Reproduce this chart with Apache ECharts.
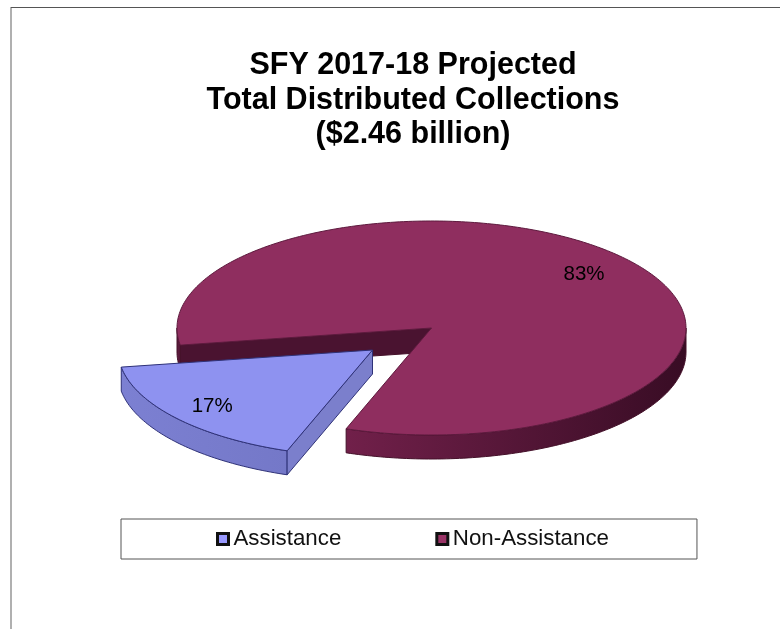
<!DOCTYPE html>
<html>
<head>
<meta charset="utf-8">
<style>html,body{margin:0;padding:0;background:#fff}#chart{width:780px;height:629px}</style>
<script src="https://cdn.jsdelivr.net/npm/echarts@6/dist/echarts.min.js"></script>
</head>
<body>
<div id="chart"></div>
<script>
// Share of projected collections by category, in percent
const categories = ['Non-Assistance', 'Assistance'];
const shares = [83, 17];
const titleLines = ['SFY 2017-18 Projected', 'Total Distributed Collections', '($2.46 billion)'];

// Projected disc: centre, radii, thickness and the angle where the shares meet
const disc = { cx: 431.5, cy: 328, rx: 254.5, ry: 107, depth: 24, seam: 170.8 };
const explode = { dx: -59, dy: 22 };
const total = shares.reduce((a, b) => a + b, 0);
const rad = d => d * Math.PI / 180;

function rimPoint(t, ox, oy) {
  return [disc.cx + ox + disc.rx * Math.cos(rad(t)), disc.cy + oy + disc.ry * Math.sin(rad(t))];
}
function arcPoints(from, to, ox, oy) {
  const pts = [];
  const steps = Math.max(2, Math.ceil(Math.abs(to - from)));
  for (let i = 0; i <= steps; i++) pts.push(rimPoint(from + (to - from) * i / steps, ox, oy));
  return pts;
}
const drop = pts => pts.map(p => [p[0], p[1] + disc.depth]);
function band(pts) { return pts.concat(drop(pts).reverse()); }
function wallGradient(a, b) {
  return { type: 'linear', x: 0, y: 0, x2: 1, y2: 0, colorStops: [{ offset: 0, color: a }, { offset: 1, color: b }] };
}
const poly = (points, fill, stroke, width) => ({
  type: 'polygon', shape: { points }, style: { fill, stroke, lineWidth: width === undefined ? 1 : width }
});
function valueLabel(text, t, factor, ox, oy) {
  const p = [disc.cx + ox + disc.rx * factor * Math.cos(rad(t)), disc.cy + oy + disc.ry * factor * Math.sin(rad(t))];
  return {
    type: 'text',
    style: { text, x: p[0], y: p[1], align: 'center', verticalAlign: 'middle', fill: '#000',
             font: '20.5px "Liberation Sans", Arial, sans-serif' }
  };
}

// Larger share: starts at the seam and runs clockwise round the back of the disc
function renderMain(params, api) {
  const sweep = api.value(0) / total * 360;
  const from = disc.seam, to = from + sweep;
  const apex = [disc.cx, disc.cy];
  const apexLow = [disc.cx, disc.cy + disc.depth];
  const seamPt = rimPoint(from, 0, 0);
  const edge = '#441029';
  return {
    type: 'group',
    children: [
      poly([apex, seamPt, [seamPt[0], seamPt[1] + disc.depth], apexLow], '#4a1330', edge),
      poly(band(arcPoints(from, 180, 0, 0)), '#5a1a3c', edge),
      poly(band(arcPoints(360, to, 0, 0)), wallGradient('#71204a', '#380c24'), edge),
      poly([apex].concat(arcPoints(from, to, 0, 0)), '#8f2e5f', '#5e1a3e'),
      valueLabel(api.value(0) + '%', from + sweep / 2, 0.78, 0, 0)
    ]
  };
}

// Smaller share: pulled out of the disc towards the viewer
function renderSlice(params, api) {
  const sweep = api.value(0) / total * 360;
  const to = disc.seam, from = to - sweep;
  const apex = [disc.cx + explode.dx, disc.cy + explode.dy];
  const lowPt = rimPoint(from, explode.dx, explode.dy);
  const edge = '#2f3278';
  return {
    type: 'group',
    children: [
      poly(band(arcPoints(from, to, explode.dx, explode.dy)), wallGradient('#7c80d2', '#7478c8'), edge),
      poly([apex, lowPt, [lowPt[0], lowPt[1] + disc.depth], [apex[0], apex[1] + disc.depth]], '#7b7fcc', edge),
      poly([apex].concat(arcPoints(from, to, explode.dx, explode.dy)), '#8e92f0', edge),
      valueLabel(api.value(0) + '%', from + sweep / 2, 0.82, explode.dx, explode.dy)
    ]
  };
}

const chart = echarts.init(document.getElementById('chart'), null, { renderer: 'canvas' });
chart.setOption({
  animation: false,
  backgroundColor: '#fff',
  title: {
    text: titleLines.join('\n'),
    left: 408,
    top: 43.5,
    textAlign: 'center',
    textStyle: { fontFamily: '"Liberation Sans", Arial, sans-serif', fontSize: 30.5, fontWeight: 'bold', lineHeight: 34.5, color: '#000' }
  },
  legend: {
    data: ['Assistance', 'Non-Assistance'],
    left: 121,
    top: 519,
    icon: 'rect',
    itemWidth: 11,
    itemHeight: 11,
    itemGap: 94,
    padding: [9, 88, 9, 95],
    borderColor: '#555',
    borderWidth: 1,
    selectedMode: false,
    itemStyle: { borderColor: '#111', borderWidth: 3 },
    textStyle: { fontFamily: '"Liberation Sans", Arial, sans-serif', fontSize: 22.3, color: '#111', padding: [0, 0, 0, 0] }
  },
  graphic: [
    { type: 'rect', shape: { x: 10, y: 7, width: 2, height: 622 }, style: { fill: '#b0b0b0' } },
    { type: 'rect', shape: { x: 11, y: 7, width: 769, height: 1 }, style: { fill: '#555' } }
  ],
  series: [
    { type: 'custom', name: categories[0], coordinateSystem: 'none', renderItem: renderMain,
      data: [[shares[0]]], itemStyle: { color: '#993366' }, z: 2 },
    { type: 'custom', name: categories[1], coordinateSystem: 'none', renderItem: renderSlice,
      data: [[shares[1]]], itemStyle: { color: '#9999ff' }, z: 3 }
  ]
});
</script>
</body>
</html>
